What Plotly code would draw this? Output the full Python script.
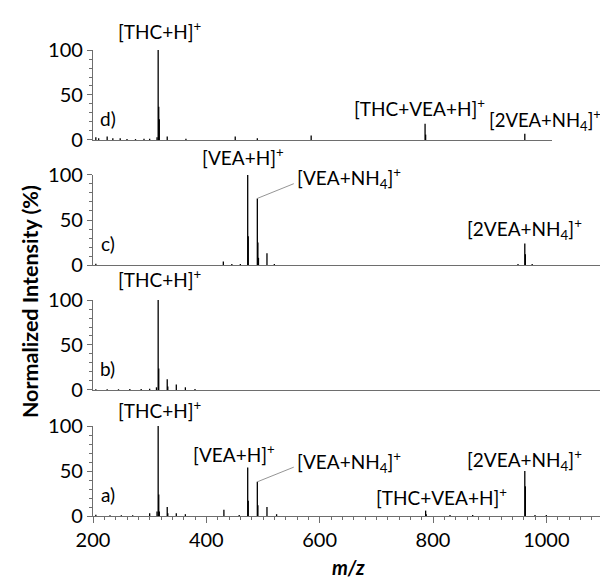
import plotly.graph_objects as go

# ---------------- data (m/z, normalized intensity %) ----------------
mz_a = [205, 230, 250, 270, 300, 313, 315, 316, 317, 331, 332, 347, 363, 431, 458,
        473, 474, 490, 491, 507, 524, 787, 788, 830, 870, 962, 963, 980, 1000]
int_a = [1.5, 0.8, 0.8, 0.8, 3, 5, 100, 24, 5, 10, 3, 3, 2, 7, 1,
         54, 17, 38, 12, 10, 2, 6, 2, 1, 1, 50, 33, 1, 1]

mz_b = [205, 225, 245, 265, 285, 300, 312, 315, 316, 331, 332, 347, 363, 380]
int_b = [0.8, 0.8, 0.8, 1, 1, 1.5, 3, 100, 24, 12, 4, 6, 3, 1]

mz_c = [205, 430, 445, 460, 473, 474, 490, 491, 492, 507, 520, 950, 962, 963, 975]
int_c = [1.5, 4, 1, 1, 100, 32, 74, 25, 8, 13, 1, 1, 24, 12, 1]

mz_d = [205, 210, 225, 235, 248, 260, 275, 290, 300, 313, 315, 316, 317, 331, 364,
        451, 490, 585, 786, 787, 962]
int_d = [3, 2, 4, 2, 2, 1, 1, 1.5, 1.5, 3, 100, 37, 23, 4, 1.5,
         4, 2, 5, 18, 6, 7]

panel_letters = ["a)", "b)", "c)", "d)"]
x_ticks = [200, 400, 600, 800, 1000]
y_ticks = [0, 50, 100]

FONT = "Lato"


def sticks(mz, inten):
    xs, ys = [], []
    for m, v in zip(mz, inten):
        xs += [m, m, None]
        ys += [0, v, None]
    return xs, ys


fig = go.Figure()
spectra = [(mz_a, int_a), (mz_b, int_b), (mz_c, int_c), (mz_d, int_d)]
for i, (mz, it) in enumerate(spectra):
    xs, ys = sticks(mz, it)
    suffix = "" if i == 0 else str(i + 1)
    fig.add_trace(go.Scatter(x=xs, y=ys, mode="lines",
                             line=dict(color="black", width=1.3),
                             xaxis="x" + suffix, yaxis="y" + suffix,
                             showlegend=False, hoverinfo="skip"))

domains_y = [[0, 0.193], [0.2704, 0.4635], [0.5386, 0.7318], [0.8069, 1.0]]
axis_col = "#6e6e6e"
tickfont = dict(family=FONT, size=20, color="black")

layout = dict(
    width=608, height=578,
    margin=dict(l=85, r=13, t=42, b=70),
    paper_bgcolor="white", plot_bgcolor="white",
    showlegend=False,
)
for i in range(4):
    suffix = "" if i == 0 else str(i + 1)
    xname = "xaxis" + suffix
    yname = "yaxis" + suffix
    xdom = [0, 1] if i < 3 else [0, (1010 - 200) / 900]
    xr = [200, 1100] if i < 3 else [200, 1010]
    xa = dict(domain=xdom, range=xr, anchor="y" + suffix,
              showline=True, linecolor=axis_col, linewidth=1.2,
              showgrid=False, zeroline=False, fixedrange=True)
    if i == 0:
        xa.update(tickmode="array", tickvals=x_ticks, ticks="outside",
                  ticklen=6, tickwidth=1.2, tickcolor=axis_col,
                  tickfont=tickfont,
                  minor=dict(dtick=20, tick0=200, ticks="outside", ticklen=3,
                             tickwidth=1, tickcolor=axis_col))
    else:
        xa.update(showticklabels=False, ticks="")
    ya = dict(domain=domains_y[i], range=[0, 100], anchor="x" + suffix,
              showline=True, linecolor=axis_col, linewidth=1.2,
              showgrid=False, zeroline=False, fixedrange=True,
              tickmode="array", tickvals=y_ticks, ticks="outside",
              ticklen=5, tickwidth=1.2, tickcolor=axis_col, tickfont=tickfont,
              minor=dict(dtick=10, tick0=0, ticks="outside", ticklen=3,
                         tickwidth=1, tickcolor=axis_col))
    layout[xname] = xa
    layout[yname] = ya

fig.update_layout(**layout)


def label(text, x, y, suffix, size=19):
    # x in m/z (same scale for every panel), y in % of the panel's height
    fig.add_annotation(text=text, x=x, y=y / 100.0, xref="x",
                       yref="y" + suffix + " domain",
                       showarrow=False, font=dict(family=FONT, size=size, color="black"),
                       xanchor="center", yanchor="middle")


def leader(x, y, ax, ay, suffix):
    fig.add_annotation(text="", x=x, y=y, ax=ax, ay=ay,
                       xref="x" + suffix, yref="y" + suffix,
                       axref="x" + suffix, ayref="y" + suffix,
                       showarrow=True, arrowhead=0, arrowwidth=0.8,
                       arrowcolor="#7a7a7a")


THC = "[THC+H]<sup>+</sup>"
VEA = "[VEA+H]<sup>+</sup>"
VEANH4 = "[VEA+NH<sub>4</sub>]<sup>+</sup>"
TV = "[THC+VEA+H]<sup>+</sup>"
V2 = "[2VEA+NH<sub>4</sub>]<sup>+</sup>"

# panel letters
for i, letter in enumerate(panel_letters):
    suffix = "" if i == 0 else str(i + 1)
    label(letter, 226, 24, suffix)

# panel a
label(THC, 318, 118, "")
label(VEA, 449, 70, "")
leader(490, 38, 557, 55, "")
label(VEANH4, 652, 60, "")
label(TV, 815, 22, "")
label(V2, 962, 62, "")
# panel b
label(THC, 318, 124, "2")
# panel c
label(VEA, 465, 120, "3")
leader(490, 74, 557, 91, "3")
label(VEANH4, 652, 97, "3")
label(V2, 962, 40, "3")
# panel d
label(THC, 318, 122, "4")
label(TV, 776, 36, "4")
label(V2, 998, 22, "4", size=18.5)

# axis titles
fig.add_annotation(text="<b>Normalized Intensity (%)</b>", xref="paper", yref="paper",
                   x=-0.1235, y=0.459, textangle=-90, showarrow=False,
                   xanchor="center", yanchor="middle",
                   font=dict(family=FONT, size=21.5, color="black"))
fig.add_annotation(text="<b><i>m/z</i></b>", xref="paper", yref="paper",
                   x=0.5, y=-0.11, showarrow=False, yanchor="middle",
                   font=dict(family=FONT, size=20, color="black"))

fig.write_html("out.html")
